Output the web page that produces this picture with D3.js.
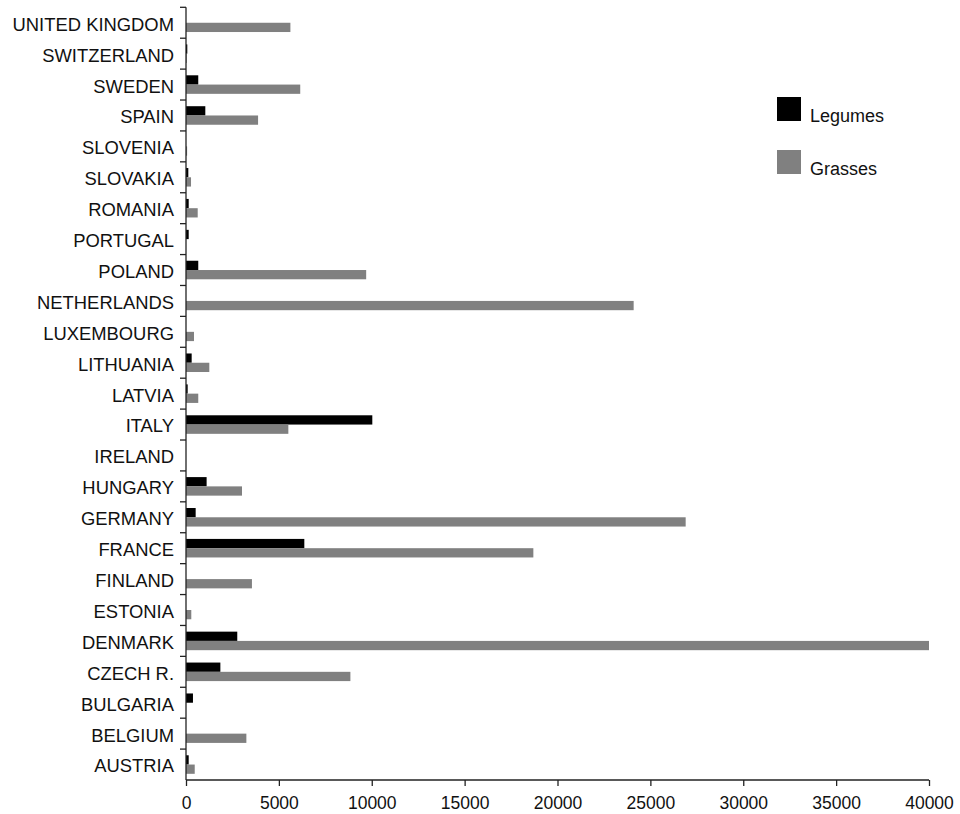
<!DOCTYPE html>
<html>
<head>
<meta charset="utf-8">
<script src="https://cdn.jsdelivr.net/npm/d3@7/dist/d3.min.js"></script>
<style>
  html, body { margin: 0; padding: 0; background: #fff; }
  text { font-family: "Liberation Sans", Arial, Helvetica, sans-serif; fill: #111; }
</style>
</head>
<body>
<svg id="chart" width="960" height="814"></svg>
<script>
// Categories in alphabetical order (drawn bottom to top)
const countries = ["AUSTRIA","BELGIUM","BULGARIA","CZECH R.","DENMARK","ESTONIA","FINLAND","FRANCE",
  "GERMANY","HUNGARY","IRELAND","ITALY","LATVIA","LITHUANIA","LUXEMBOURG","NETHERLANDS","POLAND",
  "PORTUGAL","ROMANIA","SLOVAKIA","SLOVENIA","SPAIN","SWEDEN","SWITZERLAND","UNITED KINGDOM"];
const legumes = [145, 0, 375, 1850, 2760, 0, 0, 6370, 520, 1110, 0, 10030, 90, 305, 0, 0, 660,
  145, 145, 125, 0, 1040, 660, 70, 0];
const grasses = [470, 3250, 0, 8850, 40000, 285, 3550, 18700, 26900, 3015, 0, 5510, 660, 1255, 430, 24100, 9700,
  0, 630, 270, 60, 3880, 6150, 40, 5620];
const seriesNames = ["Legumes", "Grasses"];
const seriesColors = ["#000000", "#808080"];
const xTicks = [0, 5000, 10000, 15000, 20000, 25000, 30000, 35000, 40000];

(function () {
const svg = d3.select("#chart");
const mLeft = 186, mRight = 929, mTop = 7.3, mBottom = 780;

const x = d3.scaleLinear().domain([0, 40000]).range([mLeft, mRight]);
const y = d3.scaleBand().domain(countries.slice().reverse()).range([mTop, mBottom]).paddingInner(0).paddingOuter(0);
const ySub = d3.scaleBand().domain(seriesNames).range([0, y.bandwidth()]).paddingInner(0).paddingOuter(0.667);
const color = d3.scaleOrdinal().domain(seriesNames).range(seriesColors);

const rows = countries.map((c, i) => ({ country: c, values: [
  { key: "Legumes", value: legumes[i] },
  { key: "Grasses", value: grasses[i] }
]}));

// Bars
const g = svg.append("g");
g.selectAll("g.row").data(rows).join("g")
  .attr("class", "row")
  .attr("transform", d => `translate(0,${y(d.country)})`)
  .selectAll("rect").data(d => d.values.filter(v => v.value > 0)).join("rect")
  .attr("x", x(0))
  .attr("y", d => ySub(d.key))
  .attr("width", d => x(d.value) - x(0))
  .attr("height", ySub.bandwidth())
  .attr("fill", d => color(d.key));

// Y axis line and boundary ticks
const axisColor = "#222";
svg.append("line").attr("x1", mLeft).attr("x2", mLeft).attr("y1", mTop).attr("y2", mBottom)
  .attr("stroke", axisColor).attr("stroke-width", 1.3);
const boundaries = y.domain().map(c => y(c));
svg.selectAll("line.ytick").data(boundaries).join("line")
  .attr("class", "ytick")
  .attr("x1", mLeft - 6).attr("x2", mLeft)
  .attr("y1", d => d).attr("y2", d => d)
  .attr("stroke", axisColor).attr("stroke-width", 1.3);

// Y labels
svg.selectAll("text.ylab").data(y.domain()).join("text")
  .attr("class", "ylab")
  .attr("x", mLeft - 12)
  .attr("y", d => y(d) + y.bandwidth() / 2 + 1.5)
  .attr("dy", "0.35em")
  .attr("text-anchor", "end")
  .style("font-size", "18.4px")
  .text(d => d);

// X axis
const xAxis = d3.axisBottom(x).tickValues(xTicks).tickSize(6).tickPadding(11).tickFormat(d3.format("d"));
const xg = svg.append("g").attr("transform", `translate(0,${mBottom})`).call(xAxis);
xg.select(".domain").attr("stroke", axisColor).attr("stroke-width", 1.3).attr("d", `M${mLeft},0H${mRight}`);
xg.selectAll(".tick line").attr("stroke", axisColor).attr("stroke-width", 1.3);
xg.selectAll(".tick text").style("font-size", "17.5px").attr("fill", "#111")
  .style("font-family", '"Liberation Sans", Arial, sans-serif');

// Legend
const legend = svg.append("g");
seriesNames.forEach((s, i) => {
  const ly = 97 + i * 53;
  legend.append("rect").attr("x", 777).attr("y", ly).attr("width", 24).attr("height", 24).attr("fill", color(s));
  legend.append("text").attr("x", 810).attr("y", ly + 25).style("font-size", "18px").text(s);
});
})();
</script>
</body>
</html>
